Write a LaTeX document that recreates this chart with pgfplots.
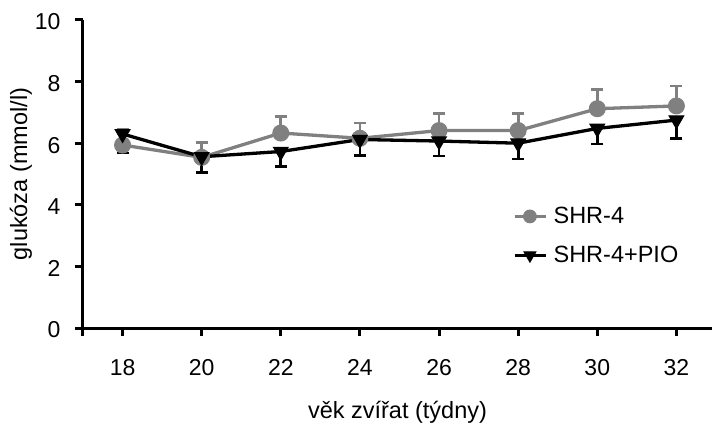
\documentclass[border=0pt]{standalone}
\usepackage{pgfplots}
\pgfplotsset{compat=1.18}
\usepackage{fontspec}
\setmainfont{Liberation Sans}

\definecolor{shrgray}{RGB}{128,128,128}

\begin{document}
\begin{tikzpicture}
\begin{axis}[
    at={(0pt,0pt)}, anchor=south west,
    scale only axis,
    width=629pt, height=308pt,
    xmin=17, xmax=32.9,
    ymin=0, ymax=10,
    axis lines=left,
    axis line style={line width=3pt, -},
    xtick={18,20,...,32},
    extra x ticks={17},
    extra x tick labels={},
    ytick={0,2,...,10},
    tick style={line width=3pt, black},
    tick align=outside,
    major tick length=8pt,
    x tick label style={yshift=-20pt},
    y tick label style={xshift=-11pt, yshift=-2pt},
    ticklabel style={font=\fontsize{23}{27}\selectfont},
    /pgf/number format/assume math mode=true,
    xlabel={věk zvířat (týdny)},
    ylabel={glukóza (mmol/l)},
    label style={font=\fontsize{23.5}{27}\selectfont},
    xlabel style={yshift=-3pt},
    ylabel style={yshift=-4pt},
    legend style={
      at={(0.679,0.405)}, anchor=north west,
      draw=none, fill=none,
      font=\fontsize{23.5}{27}\selectfont,
      row sep=17pt,
      column sep=4pt,
      cells={anchor=west},
    },
    legend image code/.code={
      \draw[mark repeat=2,mark phase=2,every mark/.append style={scale=0.8}]
        plot coordinates {(0pt,0pt) (15pt,0pt) (31pt,0pt)};
    },
    clip=false,
]
\addplot[
    shrgray, line width=3.3pt,
    mark=*, mark size=8pt, mark options={solid, fill=shrgray, draw=shrgray, line width=1pt},
    error bars/.cd, y dir=plus, y explicit,
    error bar style={line width=2.7pt, shrgray},
    error mark options={line width=2.7pt, mark size=6pt, shrgray, rotate=90},
] coordinates {
    (18,5.94) +- (0,0.50)
    (20,5.54) +- (0,0.48)
    (22,6.33) +- (0,0.54)
    (24,6.16) +- (0,0.50)
    (26,6.41) +- (0,0.56)
    (28,6.41) +- (0,0.56)
    (30,7.12) +- (0,0.63)
    (32,7.21) +- (0,0.65)
};
\addlegendentry{SHR-4}
\addplot[
    black, line width=3.3pt,
    mark=triangle*, mark size=8.5pt, mark options={solid, fill=black, line width=1pt, rotate=180},
    error bars/.cd, y dir=minus, y explicit,
    error bar style={line width=2.7pt, black},
    error mark options={line width=2.7pt, mark size=6pt, black, rotate=90},
] coordinates {
    (18,6.30) +- (0,0.62)
    (20,5.56) +- (0,0.52)
    (22,5.73) +- (0,0.49)
    (24,6.12) +- (0,0.53)
    (26,6.07) +- (0,0.49)
    (28,6.00) +- (0,0.51)
    (30,6.48) +- (0,0.51)
    (32,6.75) +- (0,0.60)
};
\addlegendentry{SHR-4+PIO}
\end{axis}
\pgfresetboundingbox
\path (-83pt,-95pt) rectangle (629pt,328pt);
\end{tikzpicture}
\end{document}
